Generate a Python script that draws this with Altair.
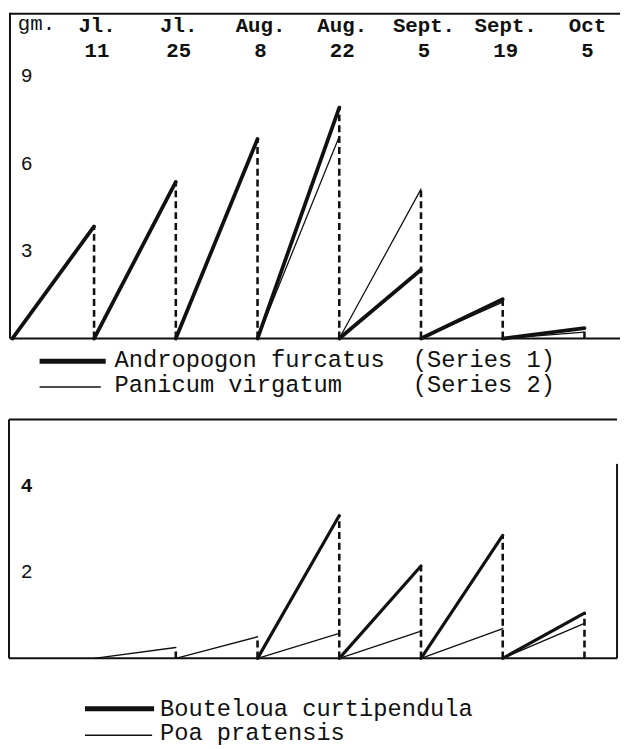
import altair as alt
import pandas as pd

# ---------------- data ----------------
dates = ["Jun. 27", "Jl. 11", "Jl. 25", "Aug. 8", "Aug. 22", "Sept. 5", "Sept. 19", "Oct 5"]
tick_labels = dates[1:]

top_species = ["Andropogon furcatus", "Panicum virgatum"]
top_series_tags = ["(Series 1)", "(Series 2)"]
bottom_species = ["Bouteloua curtipendula", "Poa pratensis"]

# gm. of regrowth at the end of each 2-week interval (interval ends at Jl.11 ... Oct 5)
andropogon = [3.85, 5.38, 6.85, 7.93, 2.36, 1.35, 0.36]
panicum = [3.85, 5.38, 6.85, 6.94, 5.13, 1.25, 0.22]
bouteloua = [None, None, None, 3.31, 2.14, 2.85, 1.05]
poa = [None, 0.25, 0.50, 0.58, 0.63, 0.69, 0.81]

top_ticks = [3, 6, 9]
bottom_ticks = [2, 4]

# ---------------- helpers ----------------
FONT = "Liberation Mono"
INK = "#111111"

X = alt.Scale(domain=[0, 7], range=[4.4, 584], nice=False, zero=False)
YT = alt.Scale(domain=[0, 9], range=[330, 64.5], nice=False, zero=False)
YB = alt.Scale(domain=[0, 4], range=[654, 479.2], nice=False, zero=False)


def seg_rows(values):
    rows = []
    for j, v in enumerate(values, start=1):
        if v is None:
            continue
        rows.append(dict(seg=j, idx=j - 1, val=0.0))
        rows.append(dict(seg=j, idx=j, val=float(v)))
    return pd.DataFrame(rows)


def drop_rows(a, b):
    rows = []
    for j, (u, v) in enumerate(zip(a, b), start=1):
        vals = [t for t in (u, v) if t is not None]
        if vals:
            rows.append(dict(idx=j, base=0.0, top=max(vals)))
    return pd.DataFrame(rows)


def lines(values, yscale, width):
    return alt.Chart(seg_rows(values)).mark_line(color=INK, strokeWidth=width, strokeCap="round").encode(
        x=alt.X("idx:Q", scale=X, axis=None),
        y=alt.Y("val:Q", scale=yscale, axis=None),
        detail="seg:N",
        order="idx:Q",
    )


def drops(a, b, yscale):
    return alt.Chart(drop_rows(a, b)).mark_rule(color=INK, strokeWidth=2.6, strokeDash=[7, 4]).encode(
        x=alt.X("idx:Q", scale=X, axis=None),
        y=alt.Y("base:Q", scale=yscale, axis=None),
        y2="top:Q",
    )


def ytext(ticks, yscale, weight="normal"):
    return alt.Chart(pd.DataFrame({"v": ticks})).mark_text(
        font=FONT, fontSize=20, fontWeight=weight, color=INK, align="center", baseline="middle"
    ).encode(
        x=alt.value(19),
        y=alt.Y("v:Q", scale=yscale, axis=None),
        text="v:N",
    )


def rule(x1, x2, y1, y2, w=2):
    return alt.Chart(pd.DataFrame({"a": [0]})).mark_rule(color=INK, strokeWidth=w).encode(
        x=alt.value(x1), x2=alt.value(x2), y=alt.value(y1), y2=alt.value(y2)
    )


def label(text, x, y, size=24, weight="normal", align="left"):
    return alt.Chart(pd.DataFrame({"t": [text]})).mark_text(
        font=FONT, fontSize=size, fontWeight=weight, color=INK, align=align, baseline="alphabetic"
    ).encode(x=alt.value(x), y=alt.value(y), text="t:N")


# ---------------- top panel ----------------
date_df = pd.DataFrame({"idx": list(range(1, 8)), "label": tick_labels})
date_text = alt.Chart(date_df).mark_text(
    font=FONT, fontSize=21, fontWeight="bold", color=INK, align="center",
    baseline="alphabetic", lineBreak=" ", lineHeight=26, dx=3
).encode(x=alt.X("idx:Q", scale=X, axis=None), y=alt.value(19), text="label:N")

top_layers = [
    rule(2, 620, 1, 1),
    rule(2, 2, 0, 330),
    rule(2, 620, 330, 330),
    drops(andropogon, panicum, YT),
    lines(panicum, YT, 1.3),
    lines(andropogon, YT, 3.8),
    ytext(top_ticks, YT),
    label("gm.", 10, 17, size=21),
    date_text,
]

# legend for top panel
top_legend = [
    rule(32, 99, 353, 353, w=5),
    rule(32, 94, 379, 379, w=1.5),
    label(top_species[0], 108, 359),
    label(top_species[1], 108, 384),
    label(top_series_tags[0], 410, 359),
    label(top_series_tags[1], 410, 384),
]

# ---------------- bottom panel ----------------
bottom_layers = [
    rule(1, 617, 412, 412),
    rule(1, 1, 412, 654),
    rule(1, 617, 654, 654),
    rule(617, 617, 457, 654),
    drops(bouteloua, poa, YB),
    lines(poa, YB, 1.4),
    lines(bouteloua, YB, 3.2),
    ytext([t for t in bottom_ticks if t < 4], YB),
    ytext([t for t in bottom_ticks if t >= 4], YB, weight="bold"),
]

bottom_legend = [
    rule(78, 148, 705, 705, w=5),
    rule(78, 146, 732, 732, w=1.5),
    label(bottom_species[0], 154, 712),
    label(bottom_species[1], 154, 737),
]

chart = alt.layer(*(top_layers + top_legend + bottom_layers + bottom_legend)).resolve_scale(
    y="independent"
).properties(
    width=620,
    height=741,
    autosize=alt.AutoSizeParams(type="none"),
    padding=0,
    background="white",
).configure_view(stroke=None)

chart.save("out.html", embed_options={"renderer": "svg", "actions": False})
